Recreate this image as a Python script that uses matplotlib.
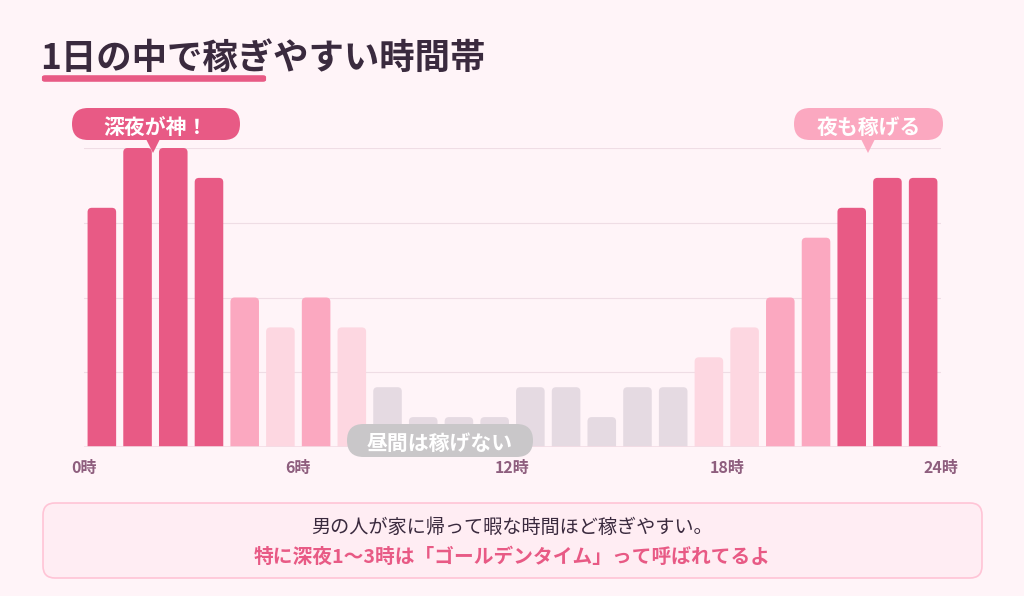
import matplotlib
matplotlib.use("Agg")
from matplotlib import pyplot as plt
from matplotlib.patches import FancyBboxPatch, Polygon

plt.rcParams['font.family'] = ['Noto Sans CJK JP', 'DejaVu Sans']

# データ（0時〜23時の稼ぎやすさ）
hours = list(range(24))
values = [80, 100, 100, 90, 50, 40, 50, 40, 20, 10, 10, 10,
          20, 20, 10, 20, 20, 30, 40, 50, 70, 80, 90, 90]
tick_pos = [-0.5, 5.5, 11.5, 17.5, 23.5]
tick_labels = ["0時", "6時", "12時", "18時", "24時"]

title = "1日の中で稼ぎやすい時間帯"
note1 = "男の人が家に帰って暇な時間ほど稼ぎやすい。"
note2 = "特に深夜1〜3時は「ゴールデンタイム」って呼ばれてるよ"

BG = "#FFF4F8"
DARK = "#E85A85"
MID = "#FBA8C0"
LIGHT = "#FDD7E1"
GRAY = "#E5DAE2"
TEXT = "#3A2A3E"

W, H = 1024, 596
fig = plt.figure(figsize=(W / 100, H / 100), dpi=100, facecolor=BG)


def fx(px):
    return px / W


def fy(py):
    return 1 - py / H


# 棒グラフ領域
ax = fig.add_axes([fx(84), fy(447), (941 - 84) / W, (447 - 148) / H])
ax.set_facecolor(BG)
ax.set_xlim(-0.5, 23.5)
ax.set_ylim(0, 100)
for s in ax.spines.values():
    s.set_visible(False)

for g in [25, 50, 75, 100]:
    ax.axhline(g, color="#EFDDE5", lw=0.8, zorder=0)


def bar_color(v):
    if v >= 80:
        return DARK
    if v >= 50:
        return MID
    if v >= 30:
        return LIGHT
    return GRAY


aspect = (857 / 24) / (299 / 100)
for h, v in zip(hours, values):
    p = FancyBboxPatch((h - 0.4, -5), 0.8, v + 5,
                       boxstyle="round,pad=0,rounding_size=0.12",
                       mutation_aspect=aspect, fc=bar_color(v), ec="none",
                       zorder=2)
    ax.add_patch(p)
ax.axhline(0, color="#F4DCE5", lw=1.2, zorder=3)

ax.set_xticks(tick_pos)
ax.set_xticklabels(tick_labels, fontsize=11.5, fontweight="bold", color="#8E5E7E")
ax.tick_params(axis="x", length=0, pad=9)
ax.set_yticks([])

# タイトル
fig.text(fx(40), fy(58), title, fontsize=25.5, fontweight="bold", color=TEXT,
         va="center", ha="left")
fig.patches.append(FancyBboxPatch((fx(45), fy(80)), fx(218), 3 / H,
                                  boxstyle="round,pad=0.003",
                                  fc=DARK, ec="none", transform=fig.transFigure))


def callout(x0, x1, y0, y1, tipx, tipy, text, color, size=15, tip=True):
    r = (y1 - y0) / 2
    fig.patches.append(FancyBboxPatch((fx(x0), fy(y1)), fx(x1 - x0), (y1 - y0) / H,
                                      boxstyle="round,pad=0,rounding_size=%f" % fx(r),
                                      mutation_aspect=W / H,
                                      fc=color, ec="none", transform=fig.transFigure,
                                      zorder=5))
    if tip:
        fig.patches.append(Polygon([(fx(tipx - 7), fy(y1 - 1)), (fx(tipx + 7), fy(y1 - 1)),
                                    (fx(tipx), fy(tipy))], closed=True, fc=color,
                                   ec="none", transform=fig.transFigure, zorder=5))
    fig.text(fx((x0 + x1) / 2), fy((y0 + y1) / 2 + 3), text, fontsize=size,
             fontweight="bold", color="white", ha="center", va="center", zorder=6)


callout(72, 240, 108, 140, 153, 153, "深夜が神！", DARK)
callout(794, 943, 108, 140, 868, 153, "夜も稼げる", MID)
callout(347, 533, 424, 457, 0, 0, "昼間は稼げない", "#C9C7C9", tip=False)

# 下のメッセージ
fig.patches.append(FancyBboxPatch((fx(43), fy(578)), fx(939), 75 / H,
                                  boxstyle="round,pad=0,rounding_size=%f" % fx(12),
                                  mutation_aspect=W / H,
                                  fc="#FFEDF3", ec="#FFC4D6", lw=1.2,
                                  transform=fig.transFigure))
fig.text(0.5, fy(527), note1, fontsize=13.8, color=TEXT, ha="center", va="center")
fig.text(0.5, fy(557), note2, fontsize=14.2, color=DARK, fontweight="bold",
         ha="center", va="center")

fig.savefig("out.png", dpi=100, facecolor=BG)
